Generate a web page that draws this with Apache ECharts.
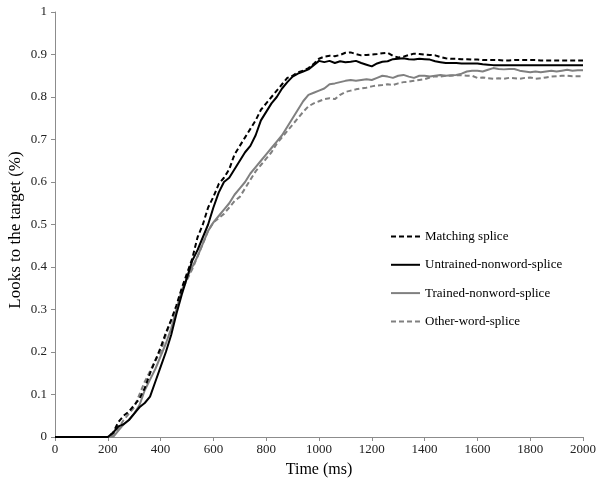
<!DOCTYPE html>
<html>
<head>
<meta charset="utf-8">
<script src="https://cdn.jsdelivr.net/npm/echarts@6/dist/echarts.min.js"></script>
<style>
html,body{margin:0;padding:0;background:#fff;}
#chart{width:601px;height:489px;}
</style>
</head>
<body>
<div id="chart"></div>
<script>
var seriesNames = ['Matching splice', 'Untrained-nonword-splice', 'Trained-nonword-splice', 'Other-word-splice'];
var xTicks = [0, 200, 400, 600, 800, 1000, 1200, 1400, 1600, 1800, 2000];
var yTicks = [0, 0.1, 0.2, 0.3, 0.4, 0.5, 0.6, 0.7, 0.8, 0.9, 1];

var times = [0,
  200, 220, 240, 260, 280, 300, 320, 340, 360, 380,
  400, 420, 440, 460, 480, 500, 520, 540, 560, 580,
  600, 620, 640, 660, 680, 700, 720, 740, 760, 780,
  800, 820, 840, 860, 880, 900, 920, 940, 960, 980,
  1000, 1020, 1040, 1060, 1080, 1100, 1120, 1140, 1160, 1180,
  1200, 1220, 1240, 1260, 1280, 1300, 1320, 1340, 1360, 1380,
  1400, 1420, 1440, 1460, 1480, 1500, 1520, 1540, 1560, 1580,
  1600, 1620, 1640, 1660, 1680, 1700, 1720, 1740, 1760, 1780,
  1800, 1820, 1840, 1860, 1880, 1900, 1920, 1940, 1960, 1980,
  2000];

var matching = [0,
  0, 0.01, 0.035, 0.05, 0.06, 0.075, 0.09, 0.115, 0.15, 0.18,
  0.21, 0.245, 0.275, 0.31, 0.35, 0.385, 0.42, 0.47, 0.5, 0.54,
  0.565, 0.595, 0.61, 0.63, 0.665, 0.685, 0.705, 0.725, 0.745, 0.77,
  0.785, 0.8, 0.815, 0.83, 0.845, 0.85, 0.858, 0.862, 0.868, 0.878,
  0.89, 0.895, 0.897, 0.896, 0.899, 0.904, 0.905, 0.901, 0.898, 0.899,
  0.9, 0.901, 0.903, 0.904, 0.897, 0.893, 0.895, 0.899, 0.902, 0.901,
  0.9, 0.899, 0.898, 0.894, 0.891, 0.89, 0.89, 0.889, 0.889, 0.888,
  0.888, 0.887, 0.887, 0.887, 0.887, 0.886, 0.886, 0.887, 0.887, 0.887,
  0.887, 0.887, 0.886, 0.886, 0.886, 0.886, 0.886, 0.886, 0.886, 0.886,
  0.886];

var untrained = [0,
  0, 0.01, 0.025, 0.03, 0.04, 0.055, 0.07, 0.08, 0.095, 0.13,
  0.165, 0.2, 0.24, 0.29, 0.335, 0.375, 0.415, 0.44, 0.47, 0.5,
  0.54, 0.575, 0.6, 0.61, 0.63, 0.65, 0.67, 0.685, 0.71, 0.745,
  0.765, 0.785, 0.8, 0.82, 0.835, 0.848, 0.855, 0.86, 0.865, 0.875,
  0.885, 0.882, 0.885, 0.88, 0.884, 0.882, 0.883, 0.885, 0.88, 0.876,
  0.872, 0.879, 0.883, 0.884, 0.889, 0.89, 0.891, 0.889, 0.888, 0.89,
  0.889, 0.888, 0.884, 0.882, 0.88, 0.88, 0.88, 0.879, 0.879, 0.879,
  0.879, 0.877, 0.876, 0.875, 0.875, 0.875, 0.875, 0.875, 0.875, 0.875,
  0.875, 0.875, 0.875, 0.875, 0.875, 0.875, 0.875, 0.875, 0.875, 0.875,
  0.875];

var trained = [0,
  0, 0, 0.015, 0.03, 0.04, 0.055, 0.075, 0.11, 0.135, 0.16,
  0.19, 0.22, 0.255, 0.3, 0.345, 0.375, 0.4, 0.425, 0.455, 0.485,
  0.505, 0.52, 0.535, 0.55, 0.57, 0.585, 0.6, 0.62, 0.635, 0.65,
  0.665, 0.68, 0.695, 0.71, 0.73, 0.75, 0.77, 0.79, 0.805, 0.81,
  0.815, 0.82, 0.83, 0.832, 0.835, 0.838, 0.84, 0.838, 0.84, 0.842,
  0.84, 0.845, 0.85, 0.848, 0.845, 0.85, 0.852, 0.848, 0.845, 0.85,
  0.85, 0.848, 0.85, 0.852, 0.85, 0.851, 0.852, 0.855, 0.86, 0.862,
  0.862, 0.86, 0.864, 0.868, 0.866, 0.865, 0.866, 0.866, 0.862, 0.86,
  0.858, 0.86, 0.858, 0.86, 0.862, 0.86, 0.862, 0.864, 0.862, 0.863,
  0.863];

var other = [0,
  0, 0.005, 0.02, 0.04, 0.055, 0.07, 0.1, 0.13, 0.155, 0.18,
  0.2, 0.24, 0.275, 0.305, 0.345, 0.37, 0.395, 0.425, 0.455, 0.485,
  0.505, 0.515, 0.525, 0.54, 0.555, 0.565, 0.585, 0.605, 0.625, 0.64,
  0.655, 0.67, 0.69, 0.705, 0.72, 0.735, 0.75, 0.765, 0.778, 0.785,
  0.79, 0.795, 0.797, 0.795, 0.805, 0.812, 0.815, 0.818, 0.82, 0.822,
  0.825, 0.827, 0.828, 0.83, 0.828, 0.832, 0.835, 0.836, 0.838, 0.84,
  0.842, 0.846, 0.849, 0.848, 0.85, 0.85, 0.851, 0.851, 0.85, 0.85,
  0.845, 0.846, 0.844, 0.843, 0.844, 0.843, 0.845, 0.844, 0.843, 0.845,
  0.846, 0.843, 0.844, 0.846, 0.848, 0.849, 0.85, 0.85, 0.849, 0.849,
  0.849];

function pairs(vals) {
  return times.map(function (t, i) { return [t, vals[i]]; });
}

var FONT = '"Liberation Serif", "Times New Roman", serif';
var chart = echarts.init(document.getElementById('chart'), null, {renderer: 'canvas'});

var styles = [
  {color: '#000000', type: [5, 3], width: 2},
  {color: '#000000', type: 'solid', width: 2},
  {color: '#808080', type: 'solid', width: 2},
  {color: '#808080', type: [5, 3], width: 2}
];
var allData = [matching, untrained, trained, other];

chart.setOption({
  animation: false,
  backgroundColor: '#ffffff',
  grid: {left: 55, right: 18, top: 12, bottom: 52, containLabel: false},
  legend: {
    orient: 'vertical',
    left: 385,
    top: 225,
    itemWidth: 29,
    itemHeight: 14,
    itemGap: 15.3,
    data: seriesNames,
    itemStyle: {opacity: 0},
    textStyle: {color: '#000', fontFamily: FONT, fontSize: 13},
    selectedMode: false
  },
  xAxis: {
    type: 'value',
    min: xTicks[0],
    max: xTicks[xTicks.length - 1],
    interval: 200,
    name: 'Time (ms)',
    nameLocation: 'middle',
    nameGap: 25,
    nameTextStyle: {color: '#000', fontFamily: FONT, fontSize: 16},
    axisLine: {lineStyle: {color: '#8c8c8c', width: 1}},
    axisTick: {show: true, length: 4, lineStyle: {color: '#8c8c8c'}},
    axisLabel: {color: '#222', fontFamily: FONT, fontSize: 13, margin: 6,
      formatter: function (v) { return String(v); }},
    splitLine: {show: false}
  },
  yAxis: {
    type: 'value',
    min: yTicks[0],
    max: yTicks[yTicks.length - 1],
    interval: 0.1,
    axisLine: {show: true, lineStyle: {color: '#8c8c8c', width: 1}},
    axisTick: {show: true, length: 4, lineStyle: {color: '#8c8c8c'}},
    axisLabel: {color: '#222', fontFamily: FONT, fontSize: 13, margin: 8,
      formatter: function (v) { return String(Math.round(v * 10) / 10); }},
    splitLine: {show: false}
  },
  graphic: [{
    type: 'text',
    x: 16,
    y: 230,
    rotation: Math.PI / 2,
    style: {
      text: 'Looks to the target (%)',
      fill: '#000',
      font: '17px ' + FONT,
      textAlign: 'center',
      textVerticalAlign: 'middle'
    }
  }],
  series: seriesNames.map(function (n, i) {
    return {
      name: n,
      type: 'line',
      data: pairs(allData[i]),
      showSymbol: false,
      symbol: 'none',
      lineStyle: styles[i],
      itemStyle: {color: styles[i].color},
      z: 4 - i
    };
  })
});
</script>
</body>
</html>
